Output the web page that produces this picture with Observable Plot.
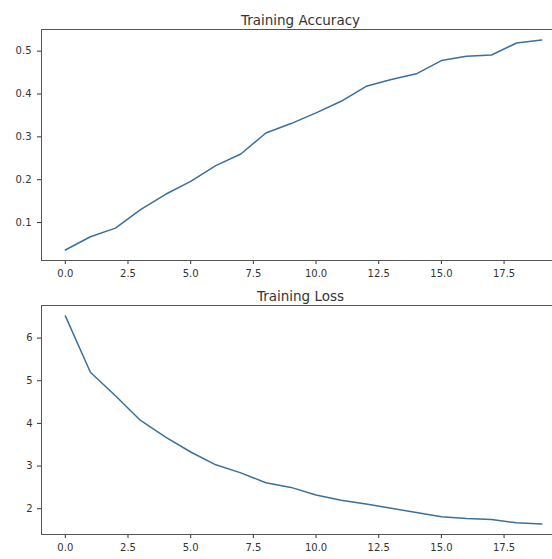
<!DOCTYPE html>
<html>
<head>
<meta charset="utf-8">
<script src="https://cdn.jsdelivr.net/npm/d3@7"></script>
<script src="https://cdn.jsdelivr.net/npm/@observablehq/plot@0.6"></script>
<style>
  html, body { margin: 0; padding: 0; background: #fff; overflow: hidden; width: 552px; height: 559px; }
  #chart { width: 552px; overflow: hidden; }
  #chart svg { display: block; max-width: none !important; width: 600px !important; }
</style>
</head>
<body>
<div id="chart"></div>
<script>
const epochs = [0,1,2,3,4,5,6,7,8,9,10,11,12,13,14,15,16,17,18,19];
const accuracy = [0.036,0.067,0.087,0.130,0.166,0.196,0.233,0.260,0.309,0.331,0.356,0.383,0.418,0.434,0.447,0.478,0.488,0.491,0.519,0.526];
const loss = [6.52,5.20,4.65,4.07,3.68,3.33,3.03,2.84,2.61,2.50,2.32,2.20,2.11,2.01,1.91,1.81,1.77,1.75,1.67,1.64];
const xTicks = [0,2.5,5,7.5,10,12.5,15,17.5];
const accTicks = [0.1,0.2,0.3,0.4,0.5];
const lossTicks = [2,3,4,5,6];
const titles = ["Training Accuracy", "Training Loss"];

const font = "DejaVu Sans, sans-serif";
const lineColor = "#3a709a";

function pad(vals) {
  const lo = d3.min(vals), hi = d3.max(vals), m = (hi - lo) * 0.05;
  return [lo - m, hi + m];
}

function panel(values, yTicks, yFmt, title, opts) {
  const data = epochs.map((e, i) => ({epoch: e, value: values[i]}));
  return Plot.plot({
    width: 600,
    height: opts.height,
    marginLeft: 41,
    marginRight: 35,
    marginTop: opts.marginTop,
    marginBottom: opts.marginBottom,
    style: {fontFamily: font, fontSize: "10px", color: "#333", background: "#fff", overflow: "visible", maxWidth: "none"},
    x: {domain: pad(epochs), ticks: xTicks, tickFormat: d3.format(".1f"), tickSize: 4, tickPadding: 5, label: null},
    y: {domain: pad(values), ticks: yTicks, tickFormat: yFmt, tickSize: 4, tickPadding: opts.yPad, label: null},
    marks: [
      Plot.frame({stroke: "#555", strokeWidth: 1}),
      Plot.line(data, {x: "epoch", y: "value", stroke: lineColor, strokeWidth: 1.5}),
      Plot.text([title], {frameAnchor: "top", lineAnchor: "bottom", dy: -5, dx: -3, fontSize: 13.5, fill: "#333", fontFamily: font})
    ]
  });
}

const chart = document.getElementById("chart");
chart.appendChild(panel(accuracy, accTicks, d3.format(".1f"), titles[0], {height: 283, marginTop: 29, marginBottom: 23, yPad: 6}));
chart.appendChild(panel(loss, lossTicks, d3.format("d"), titles[1], {height: 276, marginTop: 22, marginBottom: 25, yPad: 5}));
</script>
</body>
</html>
